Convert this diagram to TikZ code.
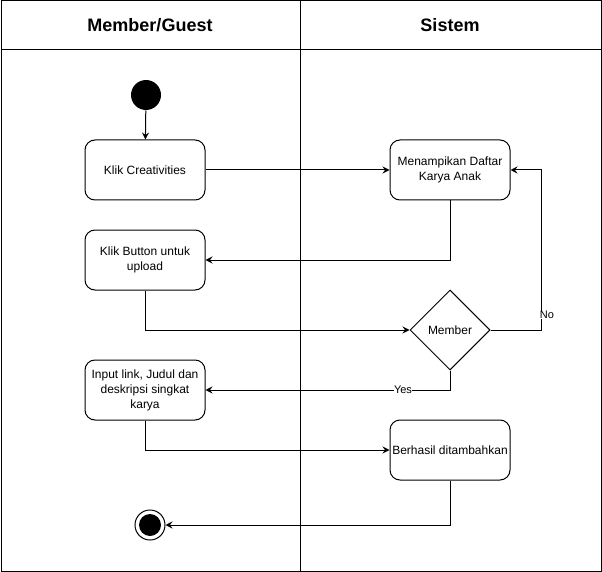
\documentclass[tikz,border=0pt]{standalone}
\usepackage{fontspec}
\setmainfont{Liberation Sans}
\usetikzlibrary{shapes.geometric,arrows.meta}
\begin{document}
\begin{tikzpicture}[x=1pt,y=-1pt,line width=1pt,
  act/.style={draw,rounded corners=10pt,minimum width=120pt,minimum height=60pt,align=center,inner sep=2pt,font=\fontsize{12}{15}\selectfont},
  dec/.style={draw,diamond,aspect=1,minimum width=80pt,minimum height=80pt,inner sep=0pt,font=\fontsize{12}{15}\selectfont},
  head/.style={font=\fontsize{18}{20}\selectfont\bfseries},
  lbl/.style={fill=white,inner sep=0.5pt,font=\fontsize{11}{13}\selectfont},
  arr/.style={-{Stealth[length=7pt,width=7pt,inset=2.5pt]}}]
\useasboundingbox (0,0) rectangle (602,572);
% swimlanes
\draw (1,1) rectangle (601,571);
\draw (1,50) -- (601,50);
\draw (300.5,1) -- (300.5,571);
\node[head] (h1) at (150,25) {Member/Guest};
\node[head] (h2) at (450,25) {Sistem};
% nodes
\node[circle,fill=black,minimum size=30pt,inner sep=0pt] (start) at (146,95) {};
\node[act] (k1) at (145,170) {Klik Creativities};
\node[act] (m1) at (450,170) {Menampikan Daftar\\Karya Anak};
\node[act] (k2) at (145,260) {Klik Button untuk\\upload};
\node[dec] (dc) at (450,330) {Member};
\node[act] (k3) at (145,390) {Input link, Judul dan\\deskripsi singkat\\karya};
\node[act] (ok) at (450,450) {Berhasil ditambahkan};
\node[circle,draw,minimum size=30pt,inner sep=0pt,
  path picture={\fill (path picture bounding box.center) circle (11pt);}] (end) at (150,525) {};
\coordinate (noc) at (541,170);
% edges
\draw[arr] (start) -- (k1);
\draw[arr] (k1) -- (m1);
\draw[arr] (m1.south) |- (k2.east);
\draw[arr] (k2.south) |- (dc.west);
\draw[arr] (dc.east) -| (noc) -- (m1.east);
\node[lbl] (nolbl) at (547,315) {No};
\draw[arr] (dc.south) |- (k3.east);
\node[lbl] (yeslbl) at (403,390) {Yes};
\draw[arr] (k3.south) |- (ok.west);
\draw[arr] (ok.south) |- (end.east);
\end{tikzpicture}
\end{document}
